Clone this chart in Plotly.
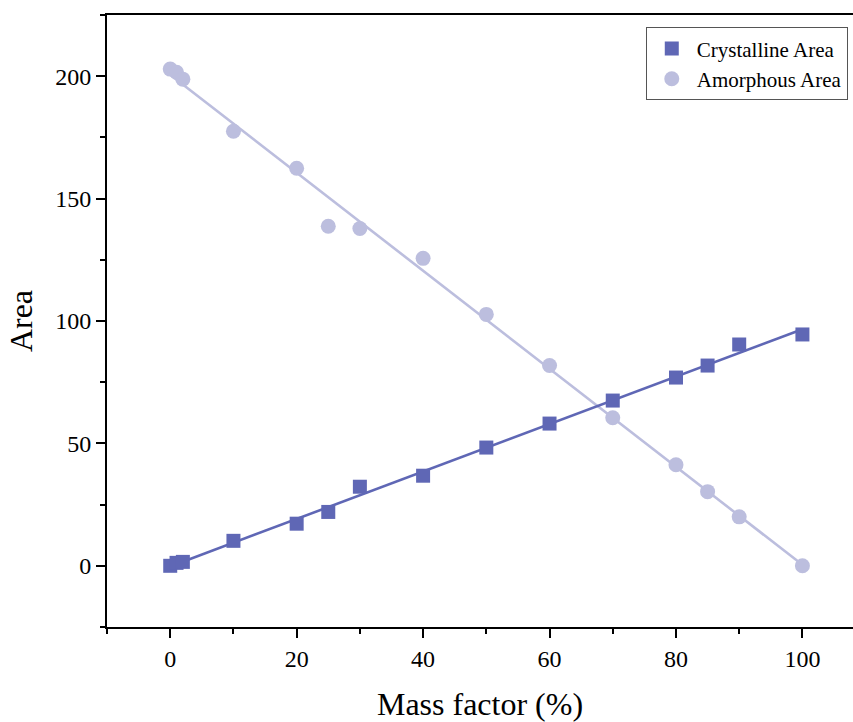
import numpy as np
import plotly.graph_objects as go

# Mass factor (%) and measured areas
mass_factor = [0, 1, 2, 10, 20, 25, 30, 40, 50, 60, 70, 80, 85, 90, 100]
crystalline_area = [0.0, 1.2, 1.6, 10.2, 17.2, 22.0, 32.3, 36.8, 48.3, 58.1, 67.5, 76.9, 81.8, 90.4, 94.5]
amorphous_area = [202.9, 201.6, 198.8, 177.5, 162.4, 138.7, 137.8, 125.6, 102.7, 81.8, 60.5, 41.3, 30.3, 20.0, 0.0]

series_names = ["Crystalline Area", "Amorphous Area"]
dark_blue = "#5F67B5"
light_blue = "#BCBEDE"

x = np.array(mass_factor, dtype=float)
fit_x = np.array([min(mass_factor), max(mass_factor)], dtype=float)
c_fit = np.polyval(np.polyfit(x, crystalline_area, 1), fit_x)
a_fit = np.polyval(np.polyfit(x, amorphous_area, 1), fit_x)

font_family = "Liberation Serif, Times New Roman, serif"

fig = go.Figure()

# Linear fits with the measured points on top
fig.add_trace(go.Scatter(x=fit_x, y=a_fit, mode="lines",
                         line=dict(color=light_blue, width=2.6),
                         showlegend=False, hoverinfo="skip"))
fig.add_trace(go.Scatter(x=mass_factor, y=amorphous_area, mode="markers",
                         name=series_names[1],
                         marker=dict(symbol="circle", size=15, color=light_blue,
                                     line=dict(width=0))))
fig.add_trace(go.Scatter(x=fit_x, y=c_fit, mode="lines",
                         line=dict(color=dark_blue, width=2.6),
                         showlegend=False, hoverinfo="skip"))
fig.add_trace(go.Scatter(x=mass_factor, y=crystalline_area, mode="markers",
                         name=series_names[0],
                         marker=dict(symbol="square", size=14, color=dark_blue,
                                     line=dict(width=0))))

axis_common = dict(
    showgrid=False, zeroline=False,
    showline=True, linecolor="black", linewidth=2,
    ticks="outside", ticklen=9, tickwidth=2, tickcolor="black",
    tickfont=dict(family=font_family, size=24, color="black"),
)

fig.update_xaxes(
    **axis_common,
    range=[-10, 108], tick0=0, dtick=20,
    mirror=True,
    minor=dict(ticks="outside", ticklen=5, tickwidth=2, tickcolor="black", dtick=10, tick0=0),
    title=dict(text="Mass factor (%)", font=dict(family=font_family, size=32, color="black"),
               standoff=22),
)
fig.update_yaxes(
    **axis_common,
    range=[-25, 225], tick0=0, dtick=50,
    minor=dict(ticks="outside", ticklen=5, tickwidth=2, tickcolor="black", dtick=25, tick0=0),
    title=dict(text="Area", font=dict(family=font_family, size=32, color="black"),
               standoff=13),
)

fig.update_layout(
    width=853, height=722,
    margin=dict(l=107, r=0, t=15, b=95),
    paper_bgcolor="white", plot_bgcolor="white",
    legend=dict(
        x=0.993, xanchor="right", y=0.98, yanchor="top",
        bgcolor="white", bordercolor="#555555", borderwidth=1,
        font=dict(family=font_family, size=21, color="black"),
        traceorder="reversed", itemwidth=40,
    ),
)

fig.write_html("out.html")
